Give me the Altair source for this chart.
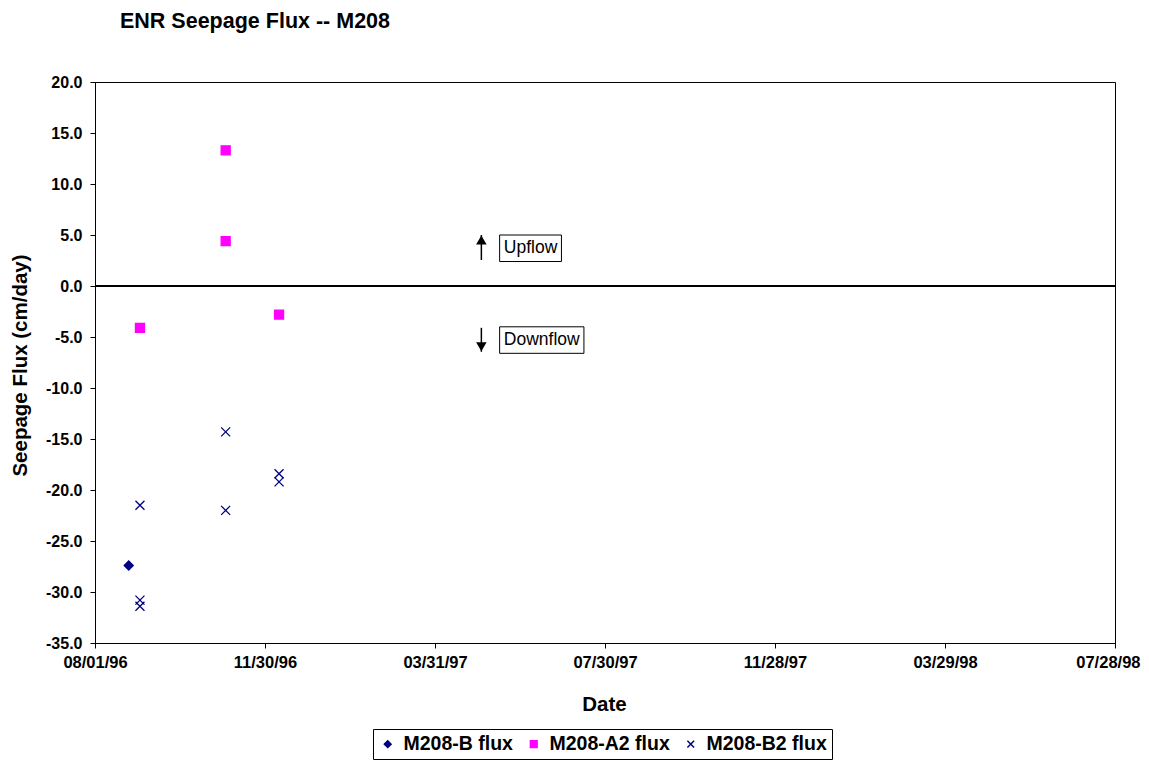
import altair as alt
import pandas as pd

FONT = "Liberation Sans"

series_names = ["M208-B flux", "M208-A2 flux", "M208-B2 flux"]
series_colors = ["#000080", "#FF00FF", "#000080"]
series_shapes = ["diamond", "square", "M-1,-1L1,1M-1,1L1,-1"]

b_dates = ["1996-08-25"]
b_flux = [-27.4]

a2_dates = ["1996-09-02", "1996-11-02", "1996-11-02", "1996-12-10"]
a2_flux = [-4.1, 13.3, 4.4, -2.8]

b2_dates = ["1996-09-02", "1996-09-02", "1996-09-02", "1996-11-02", "1996-11-02", "1996-12-10", "1996-12-10"]
b2_flux = [-21.5, -30.8, -31.4, -14.3, -22.0, -18.4, -19.2]

x_tick_dates = ["1996-08-01", "1996-11-30", "1997-03-31", "1997-07-30", "1997-11-28", "1998-03-29", "1998-07-28"]
y_ticks = [-35, -30, -25, -20, -15, -10, -5, 0, 5, 10, 15, 20]

# annotations (upflow / downflow)
note_labels = ["Upflow", "Downflow"]
note_text_dates = ["1997-05-19", "1997-05-19"]
note_text_values = [3.7, -5.3]
note_box_start = ["1997-05-16", "1997-05-16"]
note_box_end = ["1997-06-29", "1997-07-15"]
note_box_top = [5.0, -4.0]
note_box_bottom = [2.4, -6.6]
arrow_dates = ["1997-05-03", "1997-05-03"]
arrow_base = [2.55, -4.1]
arrow_tip = [5.0, -6.45]
arrow_heads = ["triangle-up", "triangle-down"]


def dt(s):
    y, m, d = (int(v) for v in s.split("-"))
    return alt.DateTime(year=y, month=m, date=d, utc=True)


rows = []
for name, dates, vals in [(series_names[0], b_dates, b_flux),
                          (series_names[1], a2_dates, a2_flux),
                          (series_names[2], b2_dates, b2_flux)]:
    for d, v in zip(dates, vals):
        rows.append({"date": d, "value": v, "series": name})
df = pd.DataFrame(rows)

notes = pd.DataFrame({
    "label": note_labels,
    "date": note_text_dates,
    "value": note_text_values,
    "x1": note_box_start,
    "x2": note_box_end,
    "y1": note_box_top,
    "y2": note_box_bottom,
})
arrows = pd.DataFrame({
    "date": arrow_dates,
    "value": arrow_base,
    "tip": arrow_tip,
    "head": arrow_heads,
})

last_tick_test = "datum.value >= utc(1998, 6, 1)"

x_scale = alt.Scale(type="utc", domain=[dt(x_tick_dates[0]), dt(x_tick_dates[-1])], nice=False)
x_axis = alt.Axis(values=[dt(s) for s in x_tick_dates], format="%m/%d/%y", title="Date",
                  labelPadding=6, labelFontSize=16.5, labelFlush=False, labelOverlap=False,
                  labelAlign={"condition": {"test": last_tick_test, "value": "right"}, "value": "center"},
                  labelOffset={"condition": {"test": last_tick_test, "value": 25}, "value": 0},
                  titleX=509, titleY=61, titleBaseline="middle", titleAlign="center")
y_scale = alt.Scale(domain=[-35, 20], nice=False, zero=False)
y_axis = alt.Axis(values=y_ticks, title="Seepage Flux (cm/day)", labelPadding=8, labelFontSize=16,
                  labelExpr="(datum.value < 0 ? '-' : '') + format(abs(datum.value), '.1f')",
                  titleX=-75, titleY=283, titleAngle=270, titleBaseline="middle", titleAlign="center")


def X(field="date", **kw):
    return alt.X(f"{field}:T", scale=x_scale, axis=x_axis, **kw)


def Y(field="value"):
    return alt.Y(f"{field}:Q", scale=y_scale, axis=y_axis)


legend = alt.Legend(orient="none", legendX=278, legendY=647, direction="horizontal", columns=3,
                    title=None, strokeColor="black", padding=5, labelFontSize=19.5,
                    labelFontWeight="bold", labelFont=FONT, labelColor="black", symbolSize=45,
                    symbolStrokeWidth=1.5, columnPadding=11, labelOffset=6, labelLimit=300)

points = alt.Chart(df).mark_point(filled=True, size=81, strokeWidth=1.3, opacity=1).encode(
    x=X(), y=Y(),
    color=alt.Color("series:N", scale=alt.Scale(domain=series_names, range=series_colors), legend=legend),
    stroke=alt.Stroke("series:N", scale=alt.Scale(domain=series_names, range=series_colors), legend=legend),
    shape=alt.Shape("series:N", scale=alt.Scale(domain=series_names, range=series_shapes), legend=legend),
)

zero = alt.Chart(df).mark_rule(color="black", strokeWidth=1.5).encode(y=alt.datum(0))

boxes = alt.Chart(notes).mark_rect(fill="white", stroke="black", strokeWidth=1).encode(
    x=X("x1"), x2="x2:T", y=Y("y1"), y2="y2:Q"
)
texts = alt.Chart(notes).mark_text(align="left", baseline="middle", fontSize=17.5, font=FONT,
                                   color="black").encode(x=X(), y=Y(), text="label:N")
shafts = alt.Chart(arrows).mark_rule(color="black", strokeWidth=1.5).encode(
    x=X(), y=Y(), y2="tip:Q"
)
heads_up = alt.Chart(arrows).transform_filter(alt.datum.head == "triangle-up").mark_point(
    shape="triangle-up", filled=True, color="black", size=110, yOffset=5, opacity=1
).encode(x=X(), y=Y("tip"))
heads_down = alt.Chart(arrows).transform_filter(alt.datum.head == "triangle-down").mark_point(
    shape="triangle-down", filled=True, color="black", size=110, yOffset=-5, opacity=1
).encode(x=X(), y=Y("tip"))

chart = alt.layer(zero, boxes, texts, shafts, heads_up, heads_down, points).properties(
    width=1020, height=561,
    autosize=alt.AutoSizeParams(type="none"),
    padding={"left": 87, "top": 74, "right": 26, "bottom": 117},
    title=alt.Title("ENR Seepage Flux -- M208", anchor="start", frame="group", dx=25, offset=42,
                    fontSize=21.5, font=FONT, fontWeight="bold", color="black"),
).configure_view(stroke="black", strokeWidth=1).configure_axis(
    domainColor="black", domainWidth=1, tickColor="black", tickSize=5, labelColor="black",
    titleColor="black", grid=False, labelFont=FONT, titleFont=FONT, labelFontWeight="bold",
    titleFontSize=20.5, titleFontWeight="bold"
)

chart.save("out.html", embed_options={"renderer": "svg", "actions": False})
